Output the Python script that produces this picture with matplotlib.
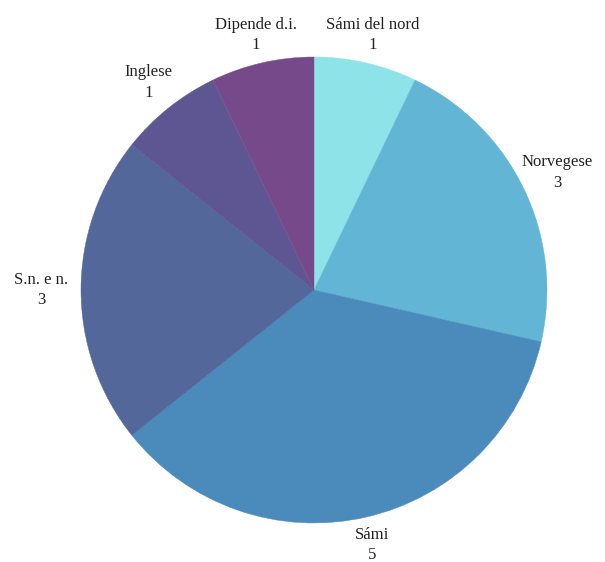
import numpy as np
import matplotlib
matplotlib.use("Agg")
import matplotlib.pyplot as plt

categories = ["Sámi del nord", "Norvegese", "Sámi", "S.n. e n.", "Inglese", "Dipende d.i."]
values = [1, 3, 5, 3, 1, 1]
colors = ["#8ee3e8", "#62b5d4", "#4a8bbb", "#53679a", "#5d5692", "#764a8a"]

W, H = 605, 562
fig = plt.figure(figsize=(W / 100, H / 100), dpi=100)
cx, cy, r = 314, 290, 233
ax = fig.add_axes([(cx - r) / W, (H - cy - r) / H, 2 * r / W, 2 * r / H])
wedges, _ = ax.pie(values, colors=colors, startangle=90, counterclock=False,
                   radius=1, wedgeprops=dict(linewidth=0))
for w in wedges:
    w.set_edgecolor(w.get_facecolor())
    w.set_linewidth(0.3)
ax.set_xlim(-1, 1)
ax.set_ylim(-1, 1)
ax.set_aspect("equal")
ax.axis("off")

for w, cat, v in zip(wedges, categories, values):
    ang = np.deg2rad((w.theta1 + w.theta2) / 2)
    c = np.cos(ang)
    f = 1.12 + 0.05 * c ** 2
    x, y = f * np.cos(ang), f * np.sin(ang)
    ax.text(x, y, f"{cat}\n{v}", ha="center", va="center", fontsize=12,
            family="Liberation Serif", color="#222222", linespacing=1.4,
            clip_on=False)

fig.savefig("out.png", dpi=100)
